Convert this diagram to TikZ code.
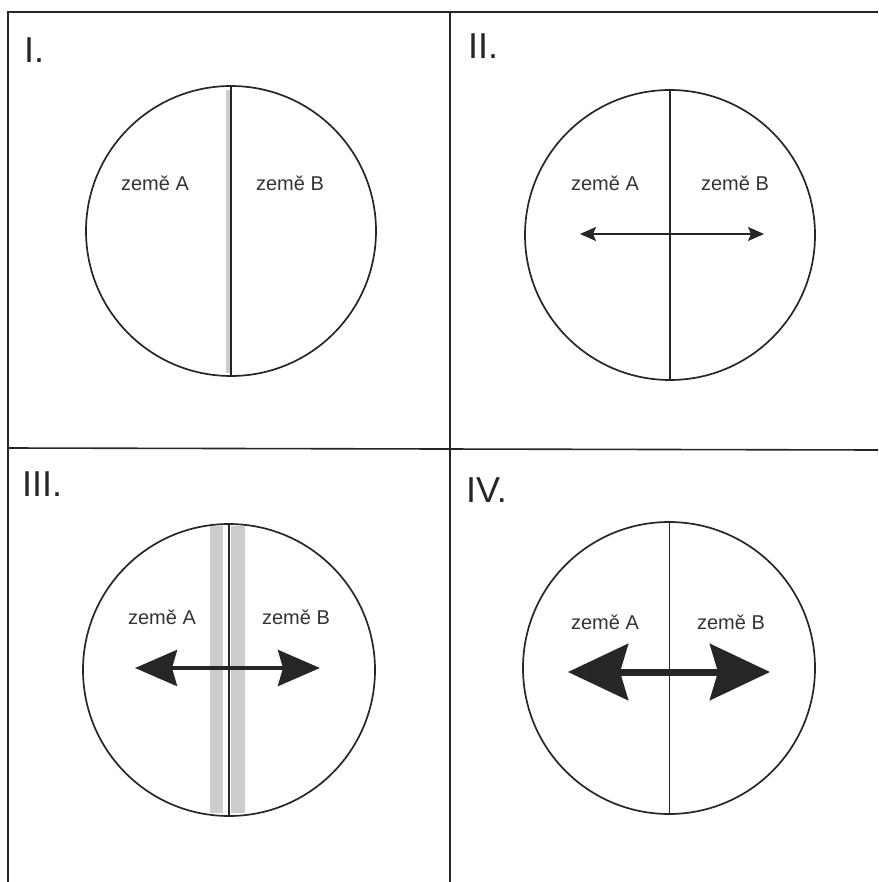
\documentclass[tikz,border=0pt]{standalone}
\usepackage{fontspec}
\setmainfont{Liberation Sans}
\usetikzlibrary{arrows.meta}
\begin{document}
\begin{tikzpicture}[x=1pt,y=-1pt,
  frame/.style={line width=1.6pt,black!85},
  ring/.style={circle,draw=black!85,line width=1.7pt,inner sep=0pt},
  divline/.style={line width=1.3pt,black!85},
  strip/.style={fill=black!20,draw=none},
  lbl/.style={font=\fontsize{20}{22}\selectfont,black!80,inner sep=0pt},
  num/.style={font=\fontsize{36}{40}\selectfont,black!85,inner sep=0pt,anchor=west},
  smallarrow/.style={line width=1.6pt,black!85,{Stealth[length=16pt,width=14pt,inset=3pt]}-{Stealth[length=16pt,width=14pt,inset=3pt]}},
  midarrow/.style={line width=4pt,black!85,{Stealth[length=42pt,width=36pt,inset=5pt]}-{Stealth[length=42pt,width=36pt,inset=5pt]}},
  bigarrow/.style={line width=7pt,black!85,{Stealth[length=60pt,width=56pt,inset=8pt]}-{Stealth[length=60pt,width=56pt,inset=8pt]}}]
\useasboundingbox (0,0) rectangle (878,882);
% frame
\draw[frame] (8,882) -- (8,12) -- (878,12);
\draw[frame] (450,12) -- (450,882);
\draw[frame] (8,448) -- (878,450);
% numerals
\node[num] (n1) at (24,50) {I.};
\node[num] (n2) at (468,46) {II.};
\node[num] (n3) at (22,484) {III.};
\node[num] (n4) at (466,490) {IV.};
% I
\fill[strip] (225.5,90) rectangle (230,373);
\node[ring,minimum size=290pt] (c1) at (231,231) {};
\draw[divline] (c1.north) -- (c1.south);
\node[lbl] (a1) at (155,183) {země A};
\node[lbl] (b1) at (290,183) {země B};
% II
\node[ring,minimum size=290pt] (c2) at (670,235) {};
\draw[divline] (c2.north) -- (c2.south);
\node[lbl] (a2) at (605,183) {země A};
\node[lbl] (b2) at (735,183) {země B};
\coordinate (l2) at (580,234);
\coordinate (r2) at (764,234);
\draw[smallarrow] (l2) -- (r2);
% III
\fill[strip] (210,526) rectangle (223,813);
\fill[strip] (231,526) rectangle (245,813);
\node[ring,minimum size=292pt] (c3) at (229,670) {};
\draw[divline] (c3.north) -- (c3.south);
\node[lbl] (a3) at (162,617) {země A};
\node[lbl] (b3) at (296,617) {země B};
\coordinate (l3) at (135,668);
\coordinate (r3) at (320,668);
\draw[midarrow] (l3) -- (r3);
% IV
\node[ring,minimum size=292pt] (c4) at (669,668) {};
\draw[line width=0.9pt,black!85] (c4.north) -- (c4.south);
\node[lbl] (a4) at (605,622) {země A};
\node[lbl] (b4) at (731,622) {země B};
\coordinate (l4) at (568,672);
\coordinate (r4) at (770,672);
\draw[bigarrow] (l4) -- (r4);
\end{tikzpicture}
\end{document}
